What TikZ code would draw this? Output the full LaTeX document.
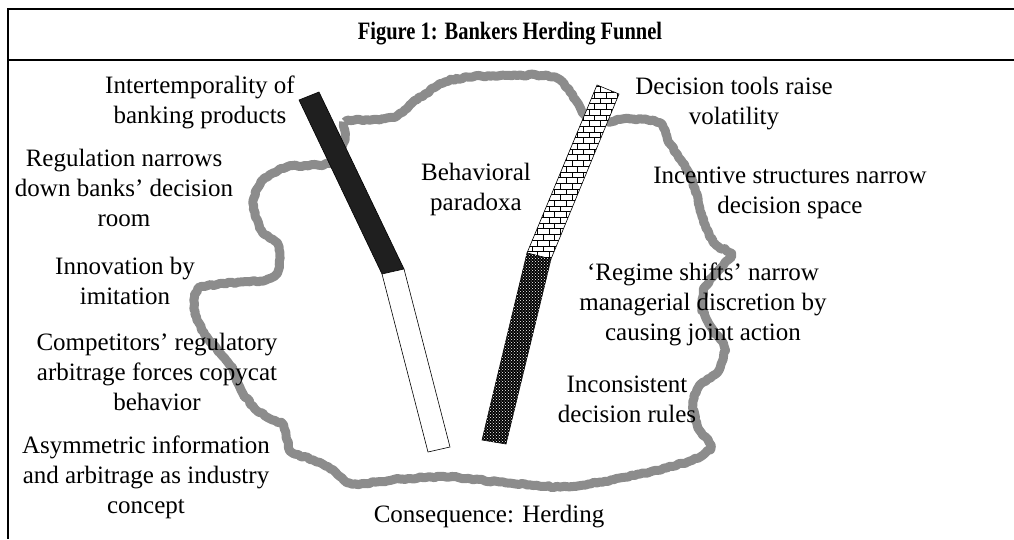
\documentclass[tikz,border=0pt]{standalone}
\usepackage{fontspec}
\setmainfont{Liberation Serif}
\newfontfamily\headingfont[FakeStretch=0.82]{Liberation Serif}
\usetikzlibrary{patterns,decorations.pathmorphing}

\definecolor{cloudgray}{RGB}{140,140,140}

\tikzstyle{factor} = [align=center, inner sep=0pt, font=\fontsize{25}{30}\selectfont]
\tikzstyle{heading} = [align=center, inner sep=0pt, font=\headingfont\fontsize{25}{30}\selectfont\bfseries]
\tikzstyle{frame} = [line width=1.4pt, black]
\tikzstyle{funnel} = [line width=9pt, cloudgray, line join=round, decorate, decoration={random steps, segment length=3pt, amplitude=0.9pt}]
\tikzstyle{bar} = [draw=black, line width=0.6pt]

\begin{document}
\begin{tikzpicture}[x=1pt, y=-1pt]
        \useasboundingbox (0,0) rectangle (1014,539);
        \pgfmathsetseed{7}

        % Frame
        \draw [frame] (1014,9) -- (8,9) -- (8,539);
        \draw [frame] (8,60) -- (1014,60);
        \node (title) [heading] at (510,34) {Figure 1: Bankers Herding Funnel};

        % Funnel outline
        \draw [funnel] plot [smooth cycle, tension=0.5] coordinates {
            (345,140) (345,122) (370,120) (395,117) (410,105) (425,94) (445,82) (470,77)
            (520,75) (555,77) (570,92) (585,115) (600,122) (630,119) (660,123)
            (668,140) (682,162) (692,180) (699,205) (706,228) (716,245) (731,254)
            (718,271) (705,287) (702,307) (711,327) (724,347) (719,370) (700,385)
            (693,402) (698,428) (711,446) (690,461) (640,474) (600,482) (560,487)
            (500,482) (450,477) (400,479) (352,484) (333,470) (313,460) (293,453)
            (287,440) (283,425) (267,417) (253,406) (241,390) (233,370) (220,353)
            (207,337) (197,320) (194,300) (202,287) (240,282) (263,281) (277,273)
            (280,258) (277,243) (263,233) (255,215) (254,198) (263,180) (287,167)
            (330,163)};

        % Bars
        \fill [bar, fill=black!88] (299,100) -- (319,92) -- (404,269) -- (382,274) -- cycle;
        \draw [bar, fill=white] (382,274) -- (404,269) -- (450,447) -- (428,452) -- cycle;
        \draw [bar, fill=white, postaction={pattern=bricks}] (597,85) -- (619,94) -- (551,259) -- (527,253) -- cycle;
        \draw [bar, fill=black, postaction={pattern=crosshatch dots, pattern color=white}] (527,253) -- (551,259) -- (506,444) -- (482,440) -- cycle;

        % Nodes
        \node (intertemp) [factor] at (200,102) {Intertemporality of\\banking products};
        \node (regulation) [factor] at (124,188) {Regulation narrows\\down banks’ decision\\room};
        \node (innovation) [factor] at (125,281) {Innovation by\\imitation};
        \node (competitors) [factor] at (157,372) {Competitors’ regulatory\\arbitrage forces copycat\\behavior};
        \node (asymmetric) [factor] at (146,477) {Asymmetric information\\and arbitrage as industry\\concept};
        \node (paradoxa) [factor] at (476,189) {Behavioral\\paradoxa};
        \node (tools) [factor] at (734,104) {Decision tools raise\\volatility};
        \node (incentive) [factor] at (790,193) {Incentive structures narrow\\decision space};
        \node (regime) [factor] at (703,304) {‘Regime shifts’ narrow\\managerial discretion by\\causing joint action};
        \node (rules) [factor] at (627,399) {Inconsistent\\decision rules};
        \node (herding) [factor] at (489,517) {Consequence: Herding};
    \end{tikzpicture}
\end{document}
